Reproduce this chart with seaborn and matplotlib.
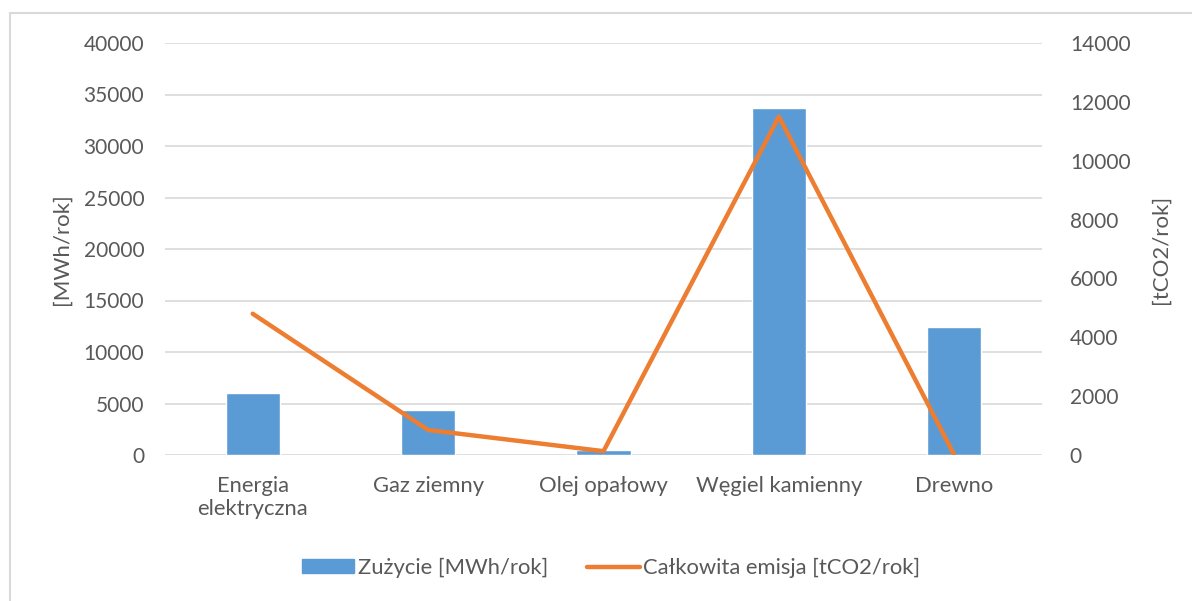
import numpy as np
import pandas as pd
import matplotlib
matplotlib.use("Agg")
import matplotlib.pyplot as plt
from matplotlib.patches import Patch, Rectangle
from matplotlib.lines import Line2D
import seaborn as sns

categories = ["Energia\nelektryczna", "Gaz ziemny", "Olej opałowy", "Węgiel kamienny", "Drewno"]
zuzycie = [6000, 4350, 450, 33700, 12400]
emisja = [4800, 850, 130, 11500, 0]
left_ticks = [0, 5000, 10000, 15000, 20000, 25000, 30000, 35000, 40000]
right_ticks = [0, 2000, 4000, 6000, 8000, 10000, 12000, 14000]
bar_label = "Zużycie [MWh/rok]"
line_label = "Całkowita emisja [tCO2/rok]"

sns.set_style("white")
plt.rcParams['font.family'] = ['Lato', 'DejaVu Sans']
TXT = "#595959"
BAR = "#5B9BD5"
LINE = "#ED7D31"
FS = 15
FS_TXT = 15.8

df = pd.DataFrame({"cat": categories, "zuzycie": zuzycie, "emisja": emisja, "pos": np.arange(len(categories))})

fig = plt.figure(figsize=(11.92, 6.01), dpi=100)
fig.patches.append(Rectangle((10/1192, -0.1), 1.2, 1 - 13/601 + 0.1, transform=fig.transFigure,
                             fill=False, edgecolor="#d9d9d9", linewidth=1.5))
ax = fig.add_axes([165/1192, 1 - 455/601, (1042 - 165)/1192, (455 - 43)/601])

sns.barplot(data=df, x="cat", y="zuzycie", color=BAR, width=0.31, ax=ax, saturation=1, zorder=2)
ax.set_ylim(0, 40000)
ax.set_yticks(left_ticks)
ax.set_yticklabels([str(t) for t in left_ticks])
ax.set_xlim(-0.5, len(categories) - 0.5)
ax.set_xlabel("")
ax.set_ylabel("[MWh/rok]", fontsize=16, color=TXT)
ax.yaxis.set_label_coords((72 - 165) / 877, 0.5)
ax.grid(axis="y", color="#d9d9d9", linewidth=1.2, zorder=0)
ax.set_axisbelow(True)
for s in ax.spines.values():
    s.set_visible(False)
ax.tick_params(axis="y", length=0, labelsize=FS, labelcolor=TXT, pad=15)
ax.tick_params(axis="x", length=0, labelsize=FS_TXT, labelcolor=TXT, pad=15)

ax2 = ax.twinx()
sns.lineplot(data=df, x="pos", y="emisja", color=LINE, linewidth=3.2, ax=ax2, zorder=3,
             solid_capstyle="round")
ax2.set_ylim(0, 14000)
ax2.set_yticks(right_ticks)
ax2.set_yticklabels([str(t) for t in right_ticks])
ax2.set_xlim(-0.5, len(categories) - 0.5)
ax2.set_ylabel("[tCO2/rok]", fontsize=16, color=TXT, rotation=90)
ax2.yaxis.set_label_coords((1151 - 165) / 877, 0.5)
for s in ax2.spines.values():
    s.set_visible(False)
ax2.tick_params(axis="y", length=0, labelsize=FS, labelcolor=TXT, pad=20)
ax2.grid(False)
ax2.set_xlabel("")

handles = [Patch(facecolor=BAR, edgecolor=BAR), Line2D([0], [0], color=LINE, linewidth=3.2)]
fig.legend(handles, [bar_label, line_label], loc="center", bbox_to_anchor=(611/1192, 1 - 568/601),
           ncol=2, frameon=False, fontsize=FS_TXT, labelcolor=TXT, handlelength=2.4,
           columnspacing=1.8, handletextpad=0.15, handleheight=0.6)

fig.savefig("out.png", dpi=100)
